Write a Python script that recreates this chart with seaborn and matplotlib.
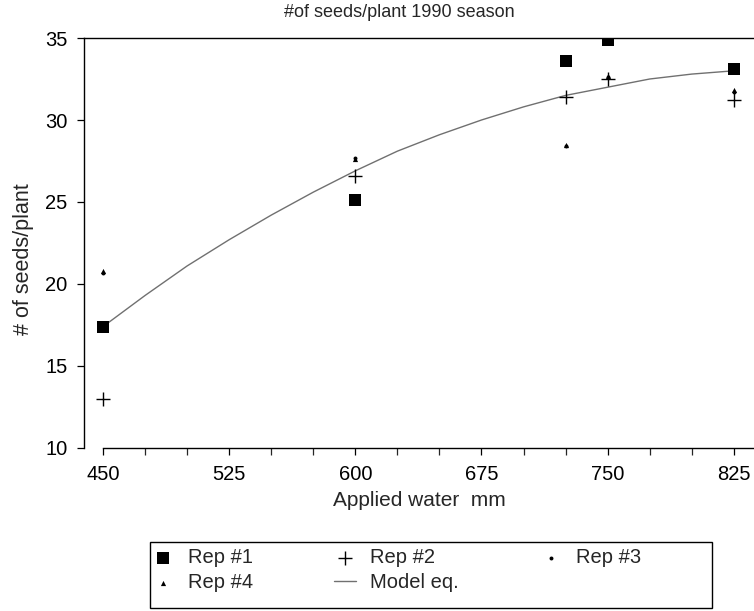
import matplotlib
matplotlib.use("Agg")
import matplotlib.pyplot as plt
import seaborn as sns
import pandas as pd
from matplotlib.ticker import MultipleLocator
from matplotlib.patches import Rectangle

# ---- data ----
water = [450, 600, 725, 750, 825]
rep1 = [17.4, 25.1, 33.6, 34.9, 33.1]
rep2 = [13.0, 26.6, 31.4, 32.5, 31.2]
rep3 = [20.7, 27.7, 28.4, 32.6, 31.7]
rep4 = [20.8, 27.6, 28.5, 32.7, 31.8]

model_x = [450, 475, 500, 525, 550, 575, 600, 625, 650, 675, 700, 725, 750, 775, 800, 825]
model_y = [17.4, 19.3, 21.1, 22.7, 24.2, 25.6, 26.9, 28.1, 29.1, 30.0, 30.8, 31.5, 32.0, 32.5, 32.8, 33.0]

x_ticks = [450, 525, 600, 675, 750, 825]
y_ticks = [10, 15, 20, 25, 30, 35]

title = "#of seeds/plant 1990 season"
xlabel = "Applied water  mm"
ylabel = "# of seeds/plant"

sns.set_theme(style="ticks")
plt.rcParams["font.family"] = ["Liberation Sans", "DejaVu Sans"]

df_rep = pd.DataFrame({
    "water": water * 4,
    "seeds": rep1 + rep2 + rep3 + rep4,
    "rep": ["Rep #1"] * 5 + ["Rep #2"] * 5 + ["Rep #3"] * 5 + ["Rep #4"] * 5,
})
df_model = pd.DataFrame({"water": model_x, "seeds": model_y})

fig = plt.figure(figsize=(7.54, 6.11), dpi=100)
ax = fig.add_axes([0.1114, 0.2668, 0.8886, 0.6710])

sns.lineplot(data=df_model, x="water", y="seeds", ax=ax, color="#707070",
             linewidth=1.0, label="Model eq.")

styles = {
    "Rep #1": dict(marker="s", s=85, color="black", edgecolor="black", linewidth=0),
    "Rep #2": dict(marker="+", s=90, color="black", linewidth=1.0),
    "Rep #3": dict(marker="o", s=8, color="black", edgecolor="black", linewidth=0),
    "Rep #4": dict(marker="^", s=14, color="black", edgecolor="black", linewidth=0),
}
for rep, kw in styles.items():
    sub = df_rep[df_rep["rep"] == rep]
    sns.scatterplot(data=sub, x="water", y="seeds", ax=ax, label=rep, zorder=3, **kw)

ax.set_xlim(438.7, 837)
ax.set_ylim(10, 35)
ax.set_xticks(x_ticks)
ax.xaxis.set_minor_locator(MultipleLocator(25))
ax.set_yticks(y_ticks)
ax.tick_params(axis="both", which="major", direction="out", length=5, width=0.9,
               labelsize=14.5, colors="black")
ax.tick_params(axis="x", which="minor", direction="out", length=5, width=0.9)
ax.tick_params(axis="x", which="major", pad=7)
ax.tick_params(axis="y", pad=7)

for side in ["left", "bottom", "top"]:
    ax.spines[side].set_color("black")
    ax.spines[side].set_linewidth(1.0)
ax.spines["right"].set_visible(False)
ax.spines["bottom"].set_bounds(450, 837)

ax.set_title(title, fontsize=13, pad=15, x=0.47)
ax.set_xlabel(xlabel, fontsize=15, labelpad=5)
ax.set_ylabel(ylabel, fontsize=15.5)
ax.yaxis.set_label_coords(-0.075, 0.46)

handles, labels = ax.get_legend_handles_labels()
ax.get_legend().remove()
hmap = dict(zip(labels, handles))
order = ["Rep #1", "Rep #4", "Rep #2", "Model eq.", "Rep #3"]
leg = fig.legend([hmap[k] for k in order], order, ncol=3,
                 loc="upper left", bbox_to_anchor=(136 / 754, 1 - 532 / 611),
                 frameon=False, fontsize=14.5, columnspacing=4.0,
                 handletextpad=0.7, borderpad=0.3, labelspacing=0.3,
                 handlelength=1.1)
fig.patches.append(Rectangle((150 / 754, 3 / 611), 562 / 754, 66 / 611,
                             transform=fig.transFigure, fill=False,
                             edgecolor="black", linewidth=1.0))

fig.savefig("out.png", dpi=100)
